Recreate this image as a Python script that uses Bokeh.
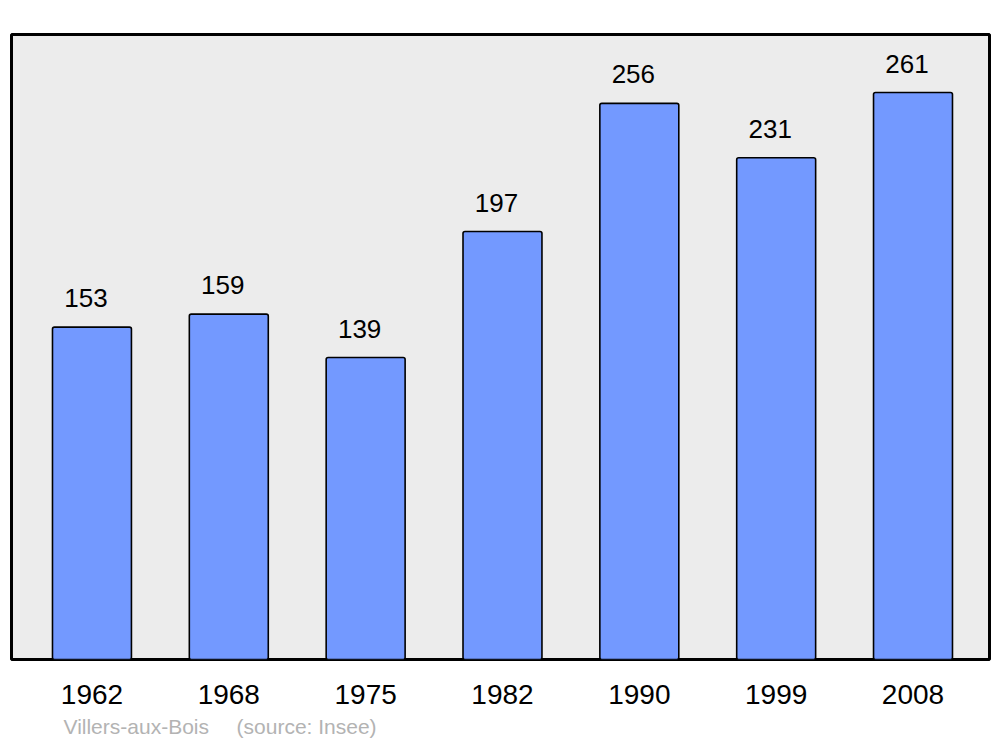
from bokeh.plotting import figure
from bokeh.models import ColumnDataSource, FixedTicker, Range1d, Title
from bokeh.core.properties import value
from bokeh.embed import file_html
from bokeh.resources import INLINE

years = ["1962", "1968", "1975", "1982", "1990", "1999", "2008"]
population = [153, 159, 139, 197, 256, 231, 261]
town = "Villers-aux-Bois"
source_note = "(source: Insee)"

xs = list(range(len(years)))
src = ColumnDataSource(dict(x=xs, top=population, label=[str(v) for v in population]))

p = figure(width=1000, height=747, output_backend="svg", toolbar_location=None,
           x_range=Range1d(-0.588, 6.559), y_range=Range1d(0, 287.7),
           min_border_left=11, min_border_right=11, min_border_top=34, min_border_bottom=88)
p.background_fill_color = "#ececec"
p.border_fill_color = "white"
p.outline_line_color = "black"
p.outline_line_width = 3
p.grid.visible = False
p.yaxis.visible = False

p.vbar(x="x", top="top", bottom=0, width=0.577, source=src,
       fill_color="#7399ff", line_color="black", line_width=1.6, border_radius=2)

p.text(x="x", y="top", text="label", source=src, x_offset=-6, y_offset=-29,
       text_align="center", text_baseline="alphabetic",
       text_font=value("Liberation Sans"), text_font_size="26px", text_color="black")

ax = p.xaxis[0]
ax.ticker = FixedTicker(ticks=xs)
ax.major_label_overrides = {i: y for i, y in zip(xs, years)}
ax.axis_line_color = None
ax.major_tick_line_color = None
ax.minor_tick_line_color = None
ax.major_label_text_font = "Liberation Sans"
ax.major_label_text_font_size = "28px"
ax.major_label_text_color = "black"
ax.major_label_standoff = 19

footer = town + "\u00a0\u00a0\u00a0\u00a0\u2009" + source_note
p.add_layout(Title(text=footer, align="left", offset=52, standoff=12,
                   text_font="Liberation Sans", text_font_size="21px",
                   text_font_style="normal", text_color="#b3b3b3"), "below")

open("out.html", "w").write(file_html(p, INLINE))
